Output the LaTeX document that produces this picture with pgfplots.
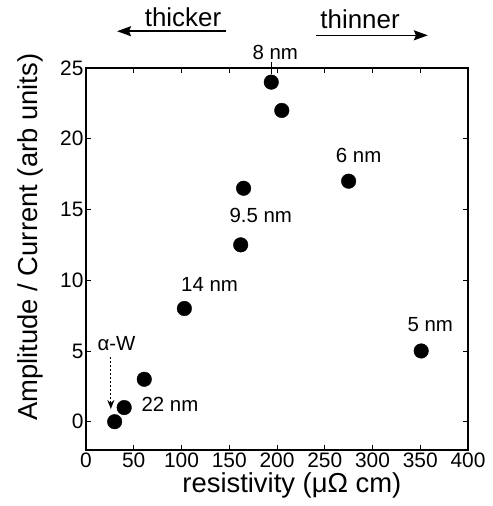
\documentclass[border=0pt]{standalone}
\usepackage{fontspec}
\setmainfont{Liberation Sans}
\usepackage{pgfplots}
\pgfplotsset{compat=1.18}
\usetikzlibrary{arrows.meta}
\begin{document}
\begin{tikzpicture}
\begin{axis}[
  scale only axis, width=382bp, height=382bp,
  xmin=0, xmax=400, ymin=-2, ymax=25,
  xtick={0,50,...,400}, ytick={0,5,...,25},
  tick align=inside, major tick length=5bp,
  axis line style={line width=1.4bp},
  every tick/.style={black, line width=0.8bp},
  tick label style={font=\fontsize{21}{22}\selectfont},
  xticklabel style={yshift=1bp},
  yticklabel style={xshift=1bp},
  label style={font=\fontsize{27.5}{29}\selectfont},
  /pgf/number format/assume math mode=true,
  xlabel={resistivity (μΩ cm)},
  ylabel={Amplitude / Current (arb units)},
  xlabel style={at={(axis description cs:0.539,-0.11)}, anchor=base},
  ylabel style={at={(axis description cs:-0.128,0.557)}, anchor=base},
  clip=false,
  nodes={font=\fontsize{20.5}{22}\selectfont},
]
\addplot[only marks, mark=*, mark size=7.3bp, black] coordinates {
  (30,0) (40,1) (61,3) (103,8) (162,12.5) (165,16.5)
  (194,24) (205,22) (275,17) (351,5)
};
% labels
\node[anchor=base west] at (axis cs:170.7,25.6) {8 nm};
\draw[line width=0.8bp] (axis cs:194,24.6) -- (axis cs:194,25.4);
\node[anchor=base west] at (axis cs:146.6,14.1) {9.5 nm};
\node[anchor=base west] at (axis cs:96,9.2) {14 nm};
\node[anchor=base west] at (axis cs:54.5,0.75) {22 nm};
\node[anchor=base west] at (axis cs:258,18.3) {6 nm};
\node[anchor=base west] at (axis cs:333,6.35) {5 nm};
\node[anchor=base west] at (axis cs:8.4,5.0) {α-W};
\draw[line width=1.3bp, dash pattern=on 2.5bp off 1.5bp, -{Stealth[length=9bp,width=7bp]}]
  (axis cs:26,4.6) -- (axis cs:26,0.9);
% thickness arrows
\node[anchor=base, font=\fontsize{26}{28}\selectfont] at (axis cs:101.6,27.92) {thicker};
\draw[line width=1.5bp, -{Stealth[length=14bp,width=10bp,inset=2bp]}]
  (axis cs:146.6,27.6) -- (axis cs:32.5,27.6);
\node[anchor=base, font=\fontsize{26}{28}\selectfont] at (axis cs:287,27.8) {thinner};
\draw[line width=1.5bp, -{Stealth[length=14bp,width=10bp,inset=2bp]}]
  (axis cs:241,27.31) -- (axis cs:358,27.31);
\end{axis}
\pgfresetboundingbox
\path (current axis.south west) ++(-86bp,-56bp) rectangle ([shift={(25bp,68bp)}]current axis.north east);
\end{tikzpicture}
\end{document}
